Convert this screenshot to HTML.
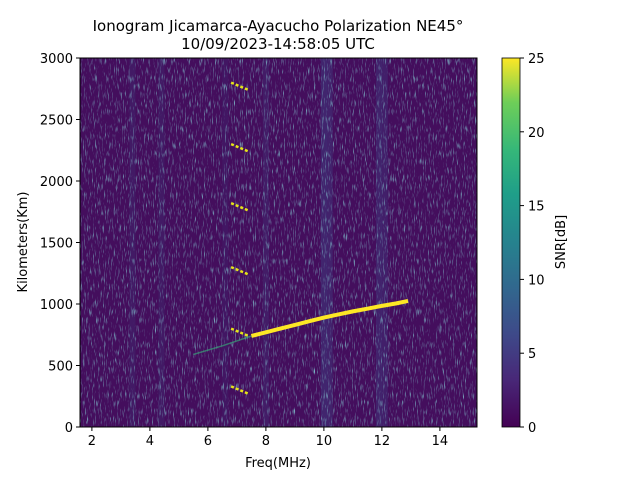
<!DOCTYPE html>
<html><head><meta charset="utf-8"><style>
body{margin:0;background:#fff;width:640px;height:480px;overflow:hidden}
svg text{font-family:"DejaVu Sans","Liberation Sans",sans-serif;fill:#000}
</style></head><body>
<svg id="chart" width="640" height="480">
<defs>
<linearGradient id="vir" x1="0" y1="1" x2="0" y2="0">
<stop offset="0" stop-color="#440154"/><stop offset="0.13" stop-color="#482878"/>
<stop offset="0.25" stop-color="#3e4989"/><stop offset="0.38" stop-color="#31688e"/>
<stop offset="0.5" stop-color="#26828e"/><stop offset="0.63" stop-color="#1f9e89"/>
<stop offset="0.75" stop-color="#35b779"/><stop offset="0.88" stop-color="#6ece58"/>
<stop offset="1" stop-color="#fde725"/></linearGradient>
<filter id="noise" x="0" y="0" width="100%" height="100%">
<feTurbulence type="fractalNoise" baseFrequency="0.9 0.12" numOctaves="2" seed="3"/>
<feColorMatrix type="matrix" values="0 0 0 0 0.2  0 0 0 0 0.45  0 0 0 0 0.55  0 0 0 3.2 -1.8"/>
</filter>
<clipPath id="pc"><rect x="80" y="58" width="397" height="369"/></clipPath>
</defs>
<text x="278" y="31" font-size="15" text-anchor="middle">Ionogram Jicamarca-Ayacucho Polarization NE45°</text>
<text x="278" y="49" font-size="15" text-anchor="middle">10/09/2023-14:58:05 UTC</text>
<g id="plot" clip-path="url(#pc)">
<rect x="80" y="58" width="397" height="369" fill="#440e5d"/>
<g id="bands"></g>
<rect x="80" y="58" width="397" height="369" filter="url(#noise)"/>
<g id="traces"></g>
</g>
<rect x="80" y="58" width="397" height="369" fill="none" stroke="#000" stroke-width="1"/>
<g id="axes"></g>
<text x="278" y="467" font-size="13" text-anchor="middle">Freq(MHz)</text>
<text transform="translate(27,242) rotate(-90)" font-size="13" text-anchor="middle">Kilometers(Km)</text>
<rect x="502" y="58" width="18" height="369" fill="url(#vir)" stroke="#000" stroke-width="0.8"/>
<g id="cbar"></g>
<text transform="translate(565,242) rotate(-90)" font-size="13" text-anchor="middle">SNR[dB]</text>
</svg>
<script>
const xTicks=[2,4,6,8,10,12,14];
const yTicks=[0,500,1000,1500,2000,2500,3000];
const cTicks=[0,5,10,15,20,25];
const traceFreq=[7.5,8,8.5,9,9.5,10,10.5,11,11.5,12,12.5,12.9];
const traceKm=[740,770,800,830,860,890,915,940,962,985,1005,1025];
const faintFreq=[5.5,6,6.5,7,7.5];
const faintKm=[590,625,660,700,740];
const echoFreq=[6.8,7.0,7.2,7.4];
const echoKm=[[800,780,760,740],[1300,1280,1260,1240],[1820,1800,1780,1760],[2300,2280,2260,2240],[2800,2780,2760,2740],[330,310,290,270]];
const bandFreq=[8.0,10.0,10.2,11.9,12.1,3.4,4.4,6.6];
const bandLevel=[0.25,0.4,0.35,0.35,0.3,0.2,0.2,0.15];
const X=f=>80+(f-1.59)*29;
const Y=k=>427-k*369/3000;
const C=v=>427-v*369/25;
const NS="http://www.w3.org/2000/svg";
function mk(p,t,a){const e=document.createElementNS(NS,t);for(const k in a)e.setAttribute(k,a[k]);document.getElementById(p).appendChild(e);return e;}
bandFreq.forEach((f,i)=>{const e=mk('bands','rect',{x:X(f)-3,y:58,width:6,height:369,fill:'#3e4989',opacity:bandLevel[i]});

});
const fp=faintFreq.map((f,i)=>X(f)+','+Y(faintKm[i])).join(' ');
let e=mk('traces','polyline',{points:fp,fill:'none',stroke:'#35b779',"stroke-width":1.5,opacity:0.6});


const tp=traceFreq.map((f,i)=>X(f)+','+Y(traceKm[i])).join(' ');
e=mk('traces','polyline',{points:tp,fill:'none',stroke:'#fde725',"stroke-width":4});


echoKm.forEach(row=>{const p=echoFreq.map((f,i)=>X(f)+','+Y(row[i])).join(' ');
const l=mk('traces','polyline',{points:p,fill:'none',stroke:'#e5e419',"stroke-width":2.5,"stroke-dasharray":"3 2"});

});
xTicks.forEach(t=>{const x=X(t);mk('axes','line',{x1:x,x2:x,y1:427,y2:431,stroke:'#000'});
const s=mk('axes','text',{x:x,y:445,"font-size":13,"text-anchor":"middle"});s.textContent=t;

});
yTicks.forEach(t=>{const y=Y(t);mk('axes','line',{x1:76,x2:80,y1:y,y2:y,stroke:'#000'});
const s=mk('axes','text',{x:73,y:y+5,"font-size":13,"text-anchor":"end"});s.textContent=t;

});
cTicks.forEach(t=>{const y=C(t);mk('cbar','line',{x1:520,x2:524,y1:y,y2:y,stroke:'#000'});
const s=mk('cbar','text',{x:528,y:y+5,"font-size":13});s.textContent=t;

});
</script>
</body></html>
